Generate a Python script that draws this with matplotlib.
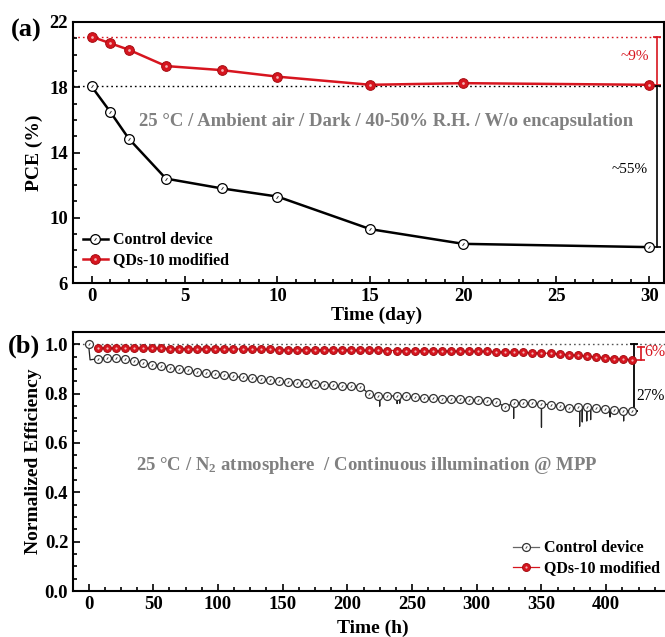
import numpy as np
import matplotlib
matplotlib.use("Agg")
import matplotlib.pyplot as plt
from matplotlib.lines import Line2D
from matplotlib.ticker import MultipleLocator

# ---------------- (a) ambient-air storage, PCE vs day ----------------
days = [0, 1, 2, 4, 7, 10, 15, 20, 30]
pce_control = [18.05, 16.5, 14.85, 12.4, 11.8, 11.3, 9.3, 8.4, 8.2]
pce_qds = [21.1, 20.7, 20.3, 19.3, 19.05, 18.65, 18.15, 18.25, 18.15]
pce_ticks = [6, 10, 14, 18, 22]

# ---------------- (b) MPP tracking, normalized efficiency vs hour ----------------
MPP_STEP = 7
hours_ctrl = list(range(0, 421, MPP_STEP))
hours_qds = list(range(7, 421, MPP_STEP))

eff_control = [
    1.000, 0.942, 0.946, 0.946, 0.939, 0.931, 0.924, 0.918, 0.913, 0.904,
    0.899, 0.895, 0.889, 0.884, 0.879, 0.874, 0.870, 0.866, 0.864, 0.861,
    0.854, 0.850, 0.847, 0.845, 0.842, 0.838, 0.837, 0.834, 0.831, 0.830,
    0.829, 0.798, 0.789, 0.789, 0.792, 0.789, 0.787, 0.783, 0.781, 0.780,
    0.779, 0.778, 0.776, 0.774, 0.771, 0.768, 0.745, 0.764, 0.763, 0.762,
    0.758, 0.755, 0.752, 0.742, 0.745, 0.744, 0.740, 0.737, 0.734, 0.731,
    0.731,
]
eff_qds = [
    0.986, 0.986, 0.985, 0.985, 0.985, 0.984, 0.984, 0.984, 0.983, 0.983,
    0.983, 0.982, 0.982, 0.982, 0.981, 0.981, 0.981, 0.980, 0.980, 0.980,
    0.979, 0.979, 0.979, 0.978, 0.978, 0.978, 0.977, 0.977, 0.977, 0.976,
    0.976, 0.976, 0.975, 0.975, 0.975, 0.974, 0.974, 0.974, 0.973, 0.973,
    0.972, 0.972, 0.971, 0.971, 0.970, 0.969, 0.968, 0.967, 0.966, 0.965,
    0.963, 0.961, 0.958, 0.955, 0.952, 0.949, 0.946, 0.942, 0.940, 0.938,
]

# initial drop right after the start and short downward glitches of the control trace
ctrl_drop_hour, ctrl_drop_value = 1.2, 0.937
spike_hours = [225, 238.5, 240.5, 328.5, 350, 379.5, 381.5, 385, 388, 403, 413.5]
spike_depths = [0.750, 0.760, 0.762, 0.700, 0.664, 0.668, 0.686, 0.690, 0.695, 0.706, 0.690]

RED = "#d7151f"
RED_EDGE = "#a50d12"
RED_SHINE = "#f3b5b5"
GRAY = "#808080"

plt.rcParams["font.family"] = ["Liberation Serif", "DejaVu Serif"]
plt.rcParams["font.weight"] = "bold"
plt.rcParams["axes.labelweight"] = "bold"
plt.rcParams["mathtext.fontset"] = "custom"
plt.rcParams["mathtext.rm"] = "Liberation Serif:bold"
plt.rcParams["mathtext.it"] = "Liberation Serif:bold"
plt.rcParams["mathtext.bf"] = "Liberation Serif:bold"

W, H = 665, 637
fig = plt.figure(figsize=(W / 100, H / 100), dpi=100)
ax1 = fig.add_axes([73 / W, 1 - 283 / H, 591 / W, 261 / H])
ax2 = fig.add_axes([73 / W, 1 - 591 / H, 594 / W, 259 / H])


def style_axes(ax):
    for s in ax.spines.values():
        s.set_linewidth(1.5)
    ax.tick_params(which="both", direction="in", top=False, right=False,
                   labelsize=13.5, width=1.2)
    ax.tick_params(which="major", length=5)
    ax.tick_params(which="minor", length=3)
    for lab in ax.get_xticklabels() + ax.get_yticklabels():
        lab.set_fontweight("bold")


# marker styles: open circle with a small inner stroke, glossy red dot
def open_style(ms, edge):
    return dict(marker="o", ms=ms, mfc="white", mec=edge, mew=0.9)


def tick_style(ms, edge):
    return dict(ls="none", marker=(2, 0, -35), ms=ms * 0.35, mec=edge, mew=0.7)


def red_style(ms):
    return dict(marker="o", ms=ms, mfc=RED, mec=RED_EDGE, mew=0.7)


def shine_style(ms):
    return dict(ls="none", marker="o", ms=ms * 0.28, mfc=RED_SHINE, mec="none")


# ---- panel (a)
MS_A = 7
ax1.axhline(pce_qds[0], color=RED, ls=(0, (1.2, 2.2)), lw=1.0, zorder=1)
ax1.axhline(pce_control[0], color="black", ls=(0, (1.2, 2.2)), lw=1.0, zorder=1)
ax1.plot(days, pce_control, color="black", lw=1.8, zorder=3, **open_style(MS_A, "black"))
ax1.plot(days, pce_control, zorder=4, **tick_style(MS_A, "#333333"))
ax1.plot(days, pce_qds, color=RED, lw=1.8, zorder=3, **red_style(MS_A))
ax1.plot(days, pce_qds, zorder=4, **shine_style(MS_A))

# retention bars on the right
ax1.plot([30.4, 30.4], [pce_qds[0], pce_qds[-1]], color=RED, lw=1.2,
         marker="_", ms=6, mew=1.2)
ax1.plot([30.45, 30.45], [pce_control[0], pce_control[-1]], color="black",
         lw=1.2, marker="_", ms=6, mew=1.2)
ax1.text(30.0, 19.9, "~9%", color=RED, fontsize=11, fontweight="normal",
         ha="right", va="center")
ax1.text(29.95, 12.95, "~55%", color="black", fontsize=11, fontweight="normal",
         ha="right", va="center")
ax1.text(15.85, 15.9, "25 \u00b0C / Ambient air / Dark / 40-50% R.H. / W/o encapsulation",
         color=GRAY, fontsize=13.5, ha="center", va="center")

ax1.set_xlim(-1, 30.8)
ax1.set_ylim(6, 22)
ax1.xaxis.set_major_locator(MultipleLocator(5))
ax1.xaxis.set_minor_locator(MultipleLocator(1))
ax1.set_yticks(pce_ticks)
ax1.yaxis.set_minor_locator(MultipleLocator(1))
style_axes(ax1)
ax1.set_xlabel("Time (day)", fontsize=14)
ax1.set_ylabel("PCE (%)", fontsize=14)
ax1.xaxis.set_label_coords(0.513, -0.09)
ax1.yaxis.set_label_coords(-0.05, 0.5)

handles_a = [
    (Line2D([], [], color="black", lw=1.8, **open_style(MS_A, "black")),
     Line2D([], [], **tick_style(MS_A, "#333333"))),
    (Line2D([], [], color=RED, lw=1.8, **red_style(MS_A)),
     Line2D([], [], **shine_style(MS_A))),
]
ax1.legend(handles_a, ["Control device", "QDs-10 modified"], loc="lower left",
           bbox_to_anchor=(0.0, 0.02), frameon=False, fontsize=11.5,
           handlelength=1.6, handletextpad=0.3, labelspacing=0.25,
           borderaxespad=0.2)

# ---- panel (b)
# control trace with its glitches merged in hour order
ctrl_path = list(zip(hours_ctrl, eff_control))
ctrl_path.append((ctrl_drop_hour, ctrl_drop_value))
for h, d in zip(spike_hours, spike_depths):
    base = float(np.interp(h, hours_ctrl, eff_control))
    ctrl_path += [(h, base), (h, d), (h, base)]
ctrl_path.sort(key=lambda p: p[0])
ctrl_x = [p[0] for p in ctrl_path]
ctrl_y = [p[1] for p in ctrl_path]

MS_B = 5.7
ax2.axhline(1.0, color="#555555", ls=(0, (1.2, 2.2)), lw=1.0, zorder=1)
ax2.plot(ctrl_x, ctrl_y, color="#222222", lw=0.9, zorder=2)
ax2.plot(hours_ctrl, eff_control, ls="none", zorder=3, **open_style(MS_B, "#333333"))
ax2.plot(hours_ctrl, eff_control, zorder=4, **tick_style(MS_B, "#444444"))
ax2.plot(hours_qds, eff_qds, color=RED, lw=0.9, zorder=3, **red_style(MS_B))
ax2.plot(hours_qds, eff_qds, zorder=4, **shine_style(MS_B))

ax2.plot([421.5, 421.5], [1.0, eff_control[-1]], color="black", lw=1.3,
         marker="_", ms=6, mew=1.3)
ax2.plot([427, 427], [0.988, eff_qds[-1]], color=RED, lw=1.2,
         marker="_", ms=6, mew=1.2)
ax2.text(429.3, 0.968, "6%", color=RED, fontsize=11.5, fontweight="normal",
         ha="left", va="center")
ax2.text(423.3, 0.79, "27%", color="black", fontsize=11.2, fontweight="normal",
         ha="left", va="center")
ax2.text(215, 0.51,
         "25 \u00b0C / N$_2$ atmosphere  / Continuous illumination @ MPP",
         color=GRAY, fontsize=13.5, ha="center", va="center")

ax2.set_xlim(-12, 447)
ax2.set_ylim(0, 1.05)
ax2.xaxis.set_major_locator(MultipleLocator(50))
ax2.xaxis.set_minor_locator(MultipleLocator(12.5))
ax2.yaxis.set_major_locator(MultipleLocator(0.2))
ax2.yaxis.set_minor_locator(MultipleLocator(0.05))
ax2.yaxis.set_major_formatter(plt.FormatStrFormatter("%.1f"))
style_axes(ax2)
ax2.set_xlabel("Time (h)", fontsize=14)
ax2.set_ylabel("Normalized Efficiency", fontsize=14)
ax2.xaxis.set_label_coords(0.505, -0.112)
ax2.yaxis.set_label_coords(-0.052, 0.5)

handles_b = [
    (Line2D([], [], color="#666666", lw=0.9, **open_style(MS_B, "#333333")),
     Line2D([], [], **tick_style(MS_B, "#444444"))),
    (Line2D([], [], color=RED, lw=0.9, **red_style(MS_B)),
     Line2D([], [], **shine_style(MS_B))),
]
ax2.legend(handles_b, ["Control device", "QDs-10 modified"], loc="lower right",
           bbox_to_anchor=(1.004, 0.02), frameon=False, fontsize=11.5,
           handlelength=1.6, handletextpad=0.3, labelspacing=0.25,
           borderaxespad=0.2)

fig.text(11 / W, 1 - 30 / H, "(a)", fontsize=19, va="center", ha="left")
fig.text(8 / W, 1 - 346 / H, "(b)", fontsize=19, va="center", ha="left")

fig.savefig("out.png", dpi=100)
